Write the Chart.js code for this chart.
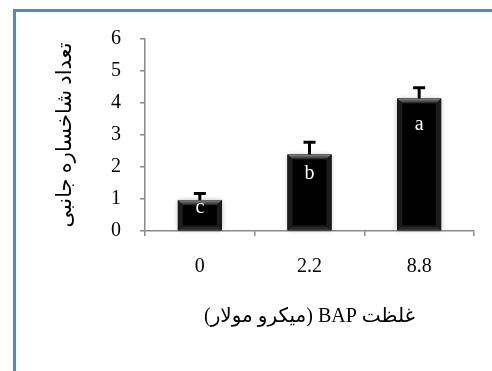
<!DOCTYPE html>
<html>
<head>
<meta charset="utf-8">
<script src="https://cdn.jsdelivr.net/npm/chart.js@4/dist/chart.umd.min.js"></script>
<style>
  html, body { margin: 0; padding: 0; background: #fff; overflow: hidden; }
  #frame { position: absolute; left: 13px; top: 9px; width: 520px; height: 420px; border: 3px solid #5585c9; }
  #chart { position: absolute; left: 0; top: 0; }
</style>
</head>
<body>
<div id="frame"></div>
<canvas id="chart" width="492" height="371"></canvas>
<script>
'use strict';

// BAP concentration (micromolar) vs number of lateral shoots
var categories = ['0', '2.2', '8.8'];
var means = [0.96, 2.39, 4.14];
var errors = [0.21, 0.38, 0.34];
var letters = ['c', 'b', 'a'];
var yTicks = [0, 1, 2, 3, 4, 5, 6];

var xTitle = '\u202B' + 'غلظت BAP (میکرو مولار)' + '\u202C';
var yTitle = 'تعداد شاخساره جانبی';

var FONT = "'Liberation Serif', 'Times New Roman', 'DejaVu Sans', serif";
var AXIS = '#8a8a8a';

(function () {
  var canvas = document.getElementById('chart');

  // soft shadow behind the bars
  var shadowPlugin = {
    id: 'barShadow',
    beforeDatasetsDraw: function (chart) {
      var ctx = chart.ctx;
      ctx.save();
      chart.getDatasetMeta(0).data.forEach(function (bar) {
        var w = bar.width;
        ctx.shadowColor = 'rgba(0,0,0,0.35)';
        ctx.shadowBlur = 5;
        ctx.fillStyle = '#000';
        ctx.fillRect(bar.x - w / 2, bar.y, w, bar.base - bar.y);
      });
      ctx.restore();
    }
  };

  // bevel edges, error bars and letters on top of the bars
  var overlayPlugin = {
    id: 'overlay',
    afterDatasetsDraw: function (chart) {
      var ctx = chart.ctx;
      var yScale = chart.scales.y;
      ctx.save();
      chart.getDatasetMeta(0).data.forEach(function (bar, i) {
        var w = bar.width;
        var l = bar.x - w / 2, r = bar.x + w / 2, t = bar.y, b = bar.base;
        var bv = 5;

        var g = ctx.createLinearGradient(0, t, 0, t + bv);
        g.addColorStop(0, '#8a8a8a');
        g.addColorStop(1, '#1a1a1a');
        ctx.fillStyle = g;
        ctx.beginPath();
        ctx.moveTo(l, t); ctx.lineTo(r, t); ctx.lineTo(r - bv, t + bv); ctx.lineTo(l + bv, t + bv);
        ctx.closePath(); ctx.fill();

        g = ctx.createLinearGradient(0, b - bv, 0, b);
        g.addColorStop(0, '#111');
        g.addColorStop(1, '#3a3a3a');
        ctx.fillStyle = g;
        ctx.beginPath();
        ctx.moveTo(l, b); ctx.lineTo(r, b); ctx.lineTo(r - bv, b - bv); ctx.lineTo(l + bv, b - bv);
        ctx.closePath(); ctx.fill();

        ctx.fillStyle = '#1c1c1c';
        ctx.beginPath();
        ctx.moveTo(l, t); ctx.lineTo(l + bv, t + bv); ctx.lineTo(l + bv, b - bv); ctx.lineTo(l, b);
        ctx.closePath(); ctx.fill();
        ctx.beginPath();
        ctx.moveTo(r, t); ctx.lineTo(r - bv, t + bv); ctx.lineTo(r - bv, b - bv); ctx.lineTo(r, b);
        ctx.closePath(); ctx.fill();

        // error bar (upper only)
        var yTop = yScale.getPixelForValue(means[i] + errors[i]);
        ctx.strokeStyle = '#000';
        ctx.lineWidth = 3;
        ctx.beginPath();
        ctx.moveTo(bar.x, t); ctx.lineTo(bar.x, yTop);
        ctx.moveTo(bar.x - 6, yTop); ctx.lineTo(bar.x + 6, yTop);
        ctx.stroke();

        // significance letter
        ctx.fillStyle = '#fff';
        ctx.font = '20px ' + FONT;
        ctx.textAlign = 'center';
        ctx.textBaseline = 'middle';
        ctx.fillText(letters[i], bar.x, t + Math.min(26, (b - t) / 4));
      });
      ctx.restore();
    }
  };

  new Chart(canvas, {
    type: 'bar',
    data: {
      labels: categories,
      datasets: [{
        data: means,
        backgroundColor: '#000',
        borderWidth: 0,
        barPercentage: 0.5,
        categoryPercentage: 0.8
      }]
    },
    options: {
      responsive: false,
      animation: false,
      devicePixelRatio: 1,
      layout: { padding: { left: 44, top: 39, right: 18, bottom: 0 } },
      plugins: { legend: { display: false }, tooltip: { enabled: false } },
      scales: {
        x: {
          grid: { drawOnChartArea: false, drawTicks: true, tickLength: 5, color: AXIS, lineWidth: 1.5 },
          border: { color: AXIS, width: 1.5 },
          ticks: { color: '#000', font: { family: FONT, size: 20 }, padding: 19, maxRotation: 0 },
          title: { display: true, text: xTitle, color: '#000', font: { family: FONT, size: 20 }, padding: { top: 0, bottom: 42 } },
          afterFit: function (s) { s.height = 140; }
        },
        y: {
          min: 0,
          max: 6,
          afterBuildTicks: function (s) { s.ticks = yTicks.map(function (v) { return { value: v }; }); },
          grid: { drawOnChartArea: false, drawTicks: true, tickLength: 5, color: AXIS, lineWidth: 1.5 },
          border: { color: AXIS, width: 1.5 },
          ticks: { color: '#000', font: { family: FONT, size: 20 }, padding: 19 },
          title: { display: true, text: yTitle, color: '#000', font: { family: FONT, size: 21 }, padding: { top: 9, bottom: 0 } },
          afterFit: function (s) { s.width = 101; }
        }
      }
    },
    plugins: [shadowPlugin, overlayPlugin]
  });
})();
</script>
</body>
</html>
